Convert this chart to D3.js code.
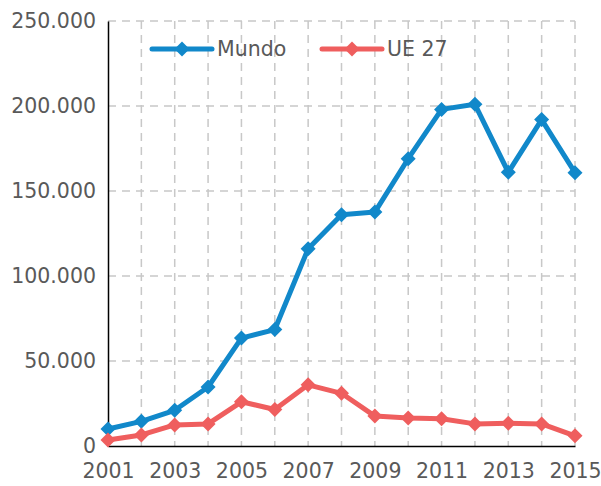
<!DOCTYPE html>
<html><head><meta charset="utf-8">
<script src="https://cdn.jsdelivr.net/npm/d3@7"></script>
<style>body{margin:0;background:#fff}svg{display:block}</style>
</head><body>
<svg id="c" width="601" height="486"></svg>
<script>
const years = [2001,2002,2003,2004,2005,2006,2007,2008,2009,2010,2011,2012,2013,2014,2015];
const mundo = [10000,14500,21000,34700,63500,68500,116000,136000,137600,169000,198000,201000,161000,192000,160800];
const ue27 = [3500,6500,12400,13000,26000,21500,36000,31000,17600,16500,16000,13000,13400,13000,6000];
const yTicks = [0,50000,100000,150000,200000,250000];
const xTickYears = [2001,2003,2005,2007,2009,2011,2013,2015];
const seriesNames = ["Mundo","UE 27"];
const colors = ["#1188CA","#EF5E5E"];

const svg = d3.select("#c");
const font = "'DejaVu Sans', sans-serif";
const fs = 20.5;
const x = d3.scaleLinear().domain([2001,2015]).range([108,575]);
const y = d3.scaleLinear().domain([0,250000]).range([446,21]);

const fmt = v => v===0 ? "0" : d3.format(",")(v).replace(/,/g,".");

// grid
const g = svg.append("g");
g.selectAll("line.h").data(yTicks.filter(d=>d>0)).join("line")
  .attr("x1",x(2001)).attr("x2",x(2015)).attr("y1",d=>y(d)).attr("y2",d=>y(d))
  .attr("stroke","#c8c8c8").attr("stroke-width",1.5).attr("stroke-dasharray","8,6");
g.selectAll("line.v").data(years.slice(1)).join("line")
  .attr("x1",d=>x(d)).attr("x2",d=>x(d)).attr("y1",y(250000)).attr("y2",y(0))
  .attr("stroke","#c8c8c8").attr("stroke-width",1.5).attr("stroke-dasharray","8,6");

// axes
const yAxis = d3.axisLeft(y).tickValues(yTicks).tickSize(0).tickPadding(12).tickFormat(fmt);
const ya = svg.append("g").attr("transform","translate(108,0)").call(yAxis);
ya.select(".domain").attr("stroke","#000").attr("stroke-width",1.5);
ya.selectAll("text").attr("font-family",font).attr("font-size",fs).attr("fill","#595959");

const xAxis = d3.axisBottom(x).tickValues(xTickYears).tickSize(0).tickPadding(17).tickFormat(d3.format("d"));
const xa = svg.append("g").attr("transform","translate(0,446)").call(xAxis);
xa.select(".domain").attr("stroke","#000").attr("stroke-width",1.5);
xa.selectAll("text").attr("font-family",font).attr("font-size",fs).attr("fill","#595959");

// lines
const data = [mundo, ue27];
const line = d3.line().x((d,i)=>x(years[i])).y(d=>y(d));
const diamond = "M0,-7.5L7.5,0L0,7.5L-7.5,0Z";
data.forEach((s,k)=>{
  svg.append("path").attr("d",line(s)).attr("fill","none").attr("stroke",colors[k])
    .attr("stroke-width",5).attr("stroke-linejoin","round").attr("stroke-linecap","round");
  svg.append("g").selectAll("path").data(s).join("path")
    .attr("d",diamond).attr("transform",(d,i)=>`translate(${x(years[i])},${y(d)})`)
    .attr("fill",colors[k]);
});

// legend
const legX = [152,322];
seriesNames.forEach((n,k)=>{
  const lg = svg.append("g");
  lg.append("line").attr("x1",legX[k]).attr("x2",legX[k]+60).attr("y1",49).attr("y2",49)
    .attr("stroke",colors[k]).attr("stroke-width",5).attr("stroke-linecap","round");
  lg.append("path").attr("d",diamond).attr("transform",`translate(${legX[k]+30},49)`).attr("fill",colors[k]);
  lg.append("text").attr("x",legX[k]+65).attr("y",49).attr("dy","0.35em")
    .attr("font-family",font).attr("font-size",fs).attr("fill","#595959").text(n);
});
</script>
</body></html>
